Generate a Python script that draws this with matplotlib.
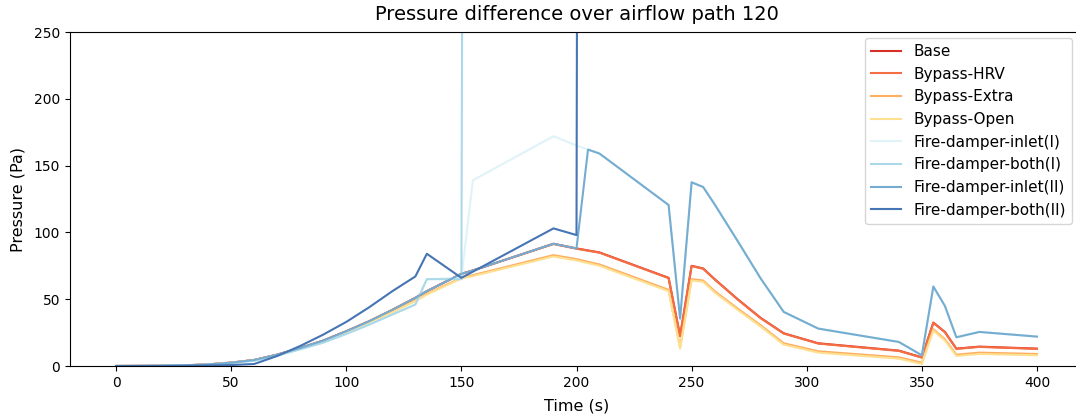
import matplotlib
matplotlib.use("Agg")
from matplotlib import pyplot as plt

# time axis (s)
time = [0, 10, 20, 30, 40, 50, 60, 70, 80, 90, 100, 110, 120, 130, 135, 150, 155,
        190, 200, 205, 210, 240, 245, 250, 255, 260, 270, 280, 290, 305, 340, 350,
        355, 360, 365, 375, 400]

# pressure difference (Pa) per case
base = [0, 0.1, 0.2, 0.5, 1.2, 2.5, 4.5, 8.5, 13.5, 19, 26, 33.5, 42, 51, 56, 69, 71.5,
        91.5, 88, 86.5, 85, 66, 22.5, 75, 73, 65, 50, 36, 24.5, 17, 11.5, 6.5,
        32.5, 25.5, 13, 14.5, 13]
bypass_hrv = [0, 0.1, 0.2, 0.5, 1.2, 2.5, 4.5, 8.5, 13.5, 19, 26, 33.5, 42, 51, 56, 69, 71.5,
              91.3, 87.8, 86.3, 84.8, 65.8, 22.3, 74.8, 72.8, 64.8, 49.8, 35.8, 24.3, 16.8, 11.3, 6.3,
              32.3, 25.3, 12.8, 14.3, 12.8]
bypass_extra = [0, 0.1, 0.2, 0.5, 1.1, 2.4, 4.3, 8.2, 13, 18.3, 25, 32.5, 40.5, 49, 54, 66, 68,
                83, 80, 78, 76, 57, 14, 65, 64, 56, 43, 30.5, 17, 11, 6.5, 2.5,
                27.5, 20, 8.5, 10, 9]
bypass_open = [0, 0.1, 0.2, 0.5, 1.1, 2.4, 4.3, 8.1, 12.9, 18.2, 24.8, 32.2, 40.2, 48.6, 53.5, 65.5, 67.3,
               82, 79, 77, 75, 56, 13, 64, 63, 55, 42, 29.5, 16, 10, 5.5, 1.5,
               26.5, 19, 7.5, 9, 8]
fd_inlet_1 = [0, 0.1, 0.2, 0.4, 1.0, 2.2, 4.0, 7.8, 12.5, 17.5, 24, 31, 38.5, 46, 65, 66, 139,
              172, 165, 162, 159, 120.5, 35.5, 137.5, 134, 121, 93.5, 65.5, 40.5, 28, 18, 8,
              59.5, 45, 21.5, 25.5, 22]
fd_both_1 = [0, 0.1, 0.2, 0.4, 1.0, 2.2, 4.0, 7.8, 12.5, 17.5, 24, 31, 38.5, 46, 65, 65, 3200,
             3500, 3400, 3350, 3300, 2900, 1100, 3100, 3050, 2800, 2300, 1800, 1300, 1000, 800, 500,
             1500, 1200, 700, 750, 700]
fd_inlet_2 = [0, 0.1, 0.2, 0.5, 1.2, 2.5, 4.5, 8.5, 13.5, 19, 26, 33.5, 42, 51, 56, 69, 71.5,
              91.5, 88, 162, 159, 120.5, 35.5, 137.5, 134, 121, 93.5, 65.5, 40.5, 28, 18, 8,
              59.5, 45, 21.5, 25.5, 22]
fd_both_2 = [0, 0, 0.1, 0.2, 0.4, 0.7, 1.5, 7.5, 15, 23.5, 33, 44, 56, 67, 84, 66, 70.6,
             103, 98, 4200, 4100, 3600, 1300, 3900, 3800, 3500, 2900, 2200, 1600, 1200, 900, 600,
             1800, 1500, 850, 900, 850]

labels = ["Base", "Bypass-HRV", "Bypass-Extra", "Bypass-Open",
          "Fire-damper-inlet(I)", "Fire-damper-both(I)",
          "Fire-damper-inlet(II)", "Fire-damper-both(II)"]
series = [base, bypass_hrv, bypass_extra, bypass_open,
          fd_inlet_1, fd_both_1, fd_inlet_2, fd_both_2]

# RdYlBu, 8 classes
colors = ["#d73027", "#f46d43", "#fdae61", "#fee090",
          "#e0f3f8", "#abd9e9", "#74add1", "#4575b4"]

fig = plt.figure(figsize=(10.76, 4.16), dpi=100)
ax = fig.add_axes([70 / 1076, 50 / 416, 1013 / 1076, 334 / 416])

for values, label, color in zip(series, labels, colors):
    ax.plot(time, values, label=label, color=color)

ax.set_xlim(-20, 420)
ax.set_ylim(0, 250)
ax.spines["right"].set_visible(False)
ax.set_title("Pressure difference over airflow path 120", fontsize=14, pad=9)
ax.set_xlabel("Time (s)", fontsize=11.5, labelpad=6)
ax.set_ylabel("Pressure (Pa)", fontsize=11.5, labelpad=6)
ax.legend(loc="upper right", bbox_to_anchor=(1072 / 1076, 378 / 416),
          bbox_transform=fig.transFigure, borderaxespad=0, fontsize=11)

fig.savefig("out.png", dpi=100)
